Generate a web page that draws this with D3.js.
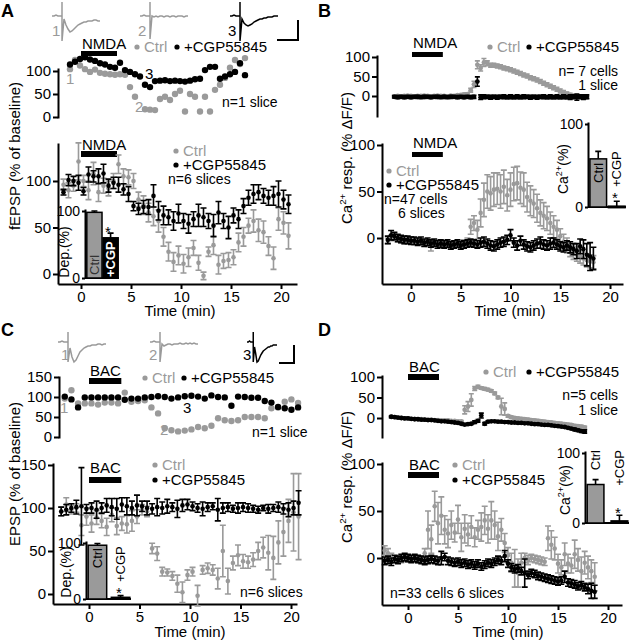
<!DOCTYPE html>
<html><head><meta charset="utf-8">
<script src="https://cdn.jsdelivr.net/npm/d3@7"></script>
<style>body{margin:0;background:#fff}</style>
</head><body><svg id="c" width="630" height="640"></svg>
<script>
// ---------------- DATA ----------------
const timeTicks = [0,5,10,15,20];
const yTicks100 = [0,50,100];
const yTicks150 = [0,50,100,150];
const insetTicks = [0,100];
const insetCats = ["Ctrl","+CGP"];

// drug application periods (min)
const nmdaA = [0,3.6], nmdaB = [0.1,3.2], bacC = [0,3.2], bacD = [0,3.1];

// sample traces (arbitrary units)
const traceT = [0,1,2,3,4,5,5,5,6,7,8,9,10,11,12,13,14,15,16,17,18,19,20,21,22,23,24];
const traceA1 = [0,0,1,0,0,0,14,-25,-3,-9,-13,-16,-15,-13,-11,-9,-8,-7,-6,-6,-5,-5,-5,-4,-4,-5,-5];
const traceA2 = [0,0,1,0,0,0,14,-23,0,-1,0,-1,0,0,-1,0,0,-1,0,0,-1,0,0,0,-1,0,0];
const traceA3 = [0,0,1,0,0,0,14,-25,-3,-7,-9,-10,-9,-8,-6,-5,-4,-3,-3,-2,-2,-1,-1,-1,0,0,0];
const traceC1 = [0,0,1,0,0,0,10,-20,-6,-15,-20,-18,-14,-10,-8,-6,-5,-4,-4,-3,-3,-3,-2,-2,-3,-2,-2];
const traceC2 = [0,0,1,0,0,0,10,-20,-2,-4,-3,-2,-2,-3,-2,-2,-2,-1,-2,-2,-1,-2,-1,-2,-1,-2,-2];
const traceC3 = [0,0,1,0,0,0,10,-20,-5,-12,-20,-19,-16,-13,-11,-9,-8,-7,-6,-5,-5,-4,-4,-3,-3,-3,-3];

// Panel A top (n=1 slice)
const aTopTime = [-1.1,-0.6,-0.1,0.4,0.9,1.4,1.9,2.4,2.9,3.4,3.9,4.4,4.9,5.4,5.9,6.4,6.9,7.4,7.9,8.4,8.9,9.4,9.9,10.4,10.9,11.4,11.9,12.4,12.9,13.4,13.9,14.4,14.9,15.4,15.9,16.4];
const aTopCtrl = [104,124,112,104,98,103,96,94,93,92,93,92,65,44,null,17,16,15,39,44,37,50,57,12,50,44,12,44,12,59,70,85,107,124,115,128];
const aTopCgp  = [114,120,126,130,125,122,117,114,109,107,118,102,98,93,88,70,65,78,79,80,78,79,78,77,79,82,83,102,109,109,83,88,93,98,117,91];

// Panel A main (n=6 slices)
const aTime = [-1.75,-1.25,-0.75,-0.25,0.25,0.75,1.25,1.75,2.25,2.75,3.25,3.75,4.25,4.75,5.25,5.75,6.25,6.75,7.25,7.75,8.25,8.75,9.25,9.75,10.25,10.75,11.25,11.75,12.25,12.75,13.25,13.75,14.25,14.75,15.25,15.75,16.25,16.75,17.25,17.75,18.25,18.75,19.25,19.75,20.25,20.75];
const aCtrl    = [96,90,95,121,100,90,108,88,95,92,100,118,105,104,100,80,74,66,62,57,40,24,13,20,11,18,28,12,-2,24,31,10,14,15,18,34,40,52,57,47,45,30,17,59,55,41];
const aCtrlErr = [6,8,6,20,6,10,12,10,8,8,8,10,8,8,8,8,10,10,10,12,10,10,10,10,10,10,8,8,4,5,10,10,8,8,8,10,10,8,12,12,12,10,12,12,12,14];
const aCgp     = [88,101,100,98,89,107,105,105,108,95,98,96,91,86,73,70,72,72,84,68,63,61,57,65,57,54,59,63,61,57,52,66,57,50,63,59,73,82,86,88,84,82,84,86,80,75];
const aCgpErr  = [3,6,5,8,4,8,6,8,10,7,6,8,6,8,5,6,7,8,12,10,10,8,10,10,8,10,8,12,10,8,12,12,8,12,8,10,8,8,10,8,8,8,10,14,10,10];
const aDep = [98,60], aDepErr = [2,7];

// Panel B top (n=7 cells, 1 slice)
const bTopTime = [-1.67,-1.33,-1,-0.67,-0.33,0,0.33,0.67,1,1.33,1.67,2,2.33,2.67,3,3.33,3.67,4,4.33,4.67,5,5.33,5.67,6,6.33,6.67,7,7.33,7.67,8,8.33,8.67,9,9.33,9.67,10,10.33,10.67,11,11.33,11.67,12,12.33,12.67,13,13.33,13.67,14,14.33,14.67,15,15.33,15.67,16,16.33,16.67,17,17.33,17.67];
const bTopCtrl    = [-1,0,-1,0,1,0,-1,0,0,1,0,-1,0,1,0,0,-1,1,0,2,3,4,5,15,30,80,72,86,84,79,79,77,75,72,70,67,64,61,58,54,51,47,44,41,37,33,29,25,21,17,13,10,6,3,1,0,-1,-2,-3];
const bTopCtrlErr = [2,2,2,2,2,2,2,2,2,2,2,2,2,2,2,2,2,2,2,2,2,3,3,5,8,10,8,10,6,5,5,5,5,5,5,5,5,5,5,5,5,5,5,5,5,5,5,5,5,5,5,4,4,4,3,3,3,3,3];
const bTopCgp     = [-2,-3,-2,-3,-2,-3,-2,-2,-3,-2,-2,-3,-2,-2,-3,-2,-3,-2,-2,-3,-2,-3,-2,-3,-2,37,-3,-2,-2,-3,-2,-3,-2,-2,-3,-2,-3,-2,-3,-2,-2,-3,-2,-3,-2,-2,-3,-2,-3,-2,-3,-2,-3,-3,-2,-3,-2,-3,-2];
const bTopCgpErr  = [3,4,3,4,3,4,3,4,3,4,3,4,3,4,3,4,3,4,3,4,3,4,3,4,4,12,6,5,4,5,4,5,4,5,4,5,4,5,4,5,4,5,4,5,4,5,4,5,4,5,4,5,4,6,5,8,5,6,5];

// Panel B main (n=47 cells, 6 slices)
const bTime = [-2.33,-2,-1.67,-1.33,-1,-0.67,-0.33,0,0.33,0.67,1,1.33,1.67,2,2.33,2.67,3,3.33,3.67,4,4.33,4.67,5,5.33,5.67,6,6.33,6.67,7,7.33,7.67,8,8.33,8.67,9,9.33,9.67,10,10.33,10.67,11,11.33,11.67,12,12.33,12.67,13,13.33,13.67,14,14.33,14.67,15,15.33,15.67,16,16.33,16.67,17,17.33,17.67,18,18.33];
const bCtrl    = [-3,0,2,-1,-2,-3,-2,-2,-4,-3,-4,-5,-6,-9,-6,-5,-6,-7,-6,-7,-8,-7,-6,-5,-4,12,16,9,27,41,50,48,52,53,50,55,46,52,58,59,54,52,44,40,37,32,27,24,21,16,12,9,2,-4,-8,-13,-16,-18,-20,-22,-24,-25,-26];
const bCtrlErr = [3,3,3,3,3,3,3,3,3,3,3,3,3,5,3,3,3,3,3,3,3,3,3,3,4,8,8,10,15,18,18,18,18,17,18,18,17,18,18,18,17,18,16,16,15,15,14,14,13,12,12,10,8,8,8,7,7,7,7,7,7,7,7];
const bCgp     = [-2,3,2,0,-1,-2,-2,-3,-3,-4,-3,-5,-4,-6,-5,-7,-6,-7,-6,-8,-7,-6,-8,-7,-6,-5,-6,-7,-5,-4,-6,-8,-9,-7,-5,-4,-2,3,-5,-8,-3,-7,-9,-10,-8,-6,-5,-7,-8,-6,-5,-7,-9,-10,-8,-10,-12,-14,-9,-12,-18,-20,-22];
const bCgpErr  = [4,5,4,4,4,4,4,4,4,4,4,4,4,4,4,4,4,4,4,4,4,4,4,4,4,4,4,4,5,5,5,5,5,5,5,5,5,6,5,5,5,5,5,5,5,5,6,5,5,6,5,5,5,5,5,6,6,8,8,10,12,15,12];
const bCa = [58,1], bCaErr = [9,6];

// Panel C top (n=1 slice)
const cTopTime = [-2.4,-1.74,-1.08,-0.42,0.24,0.9,1.56,2.22,2.88,3.54,4.2,4.86,5.52,6.18,6.84,7.5,8.16,8.82,9.48,10.14,10.8,11.46,12.12,12.78,13.44,14.1,14.76,15.42,16.08,16.74,17.4,18.06,18.72,19.38,20.04,20.7];
const cTopCtrl = [96,117,84,84,84,81,86,86,84,111,88,90,92,74,59,22,17,14,16,19,25,22,28,47,42,40,42,50,50,50,47,72,74,88,94,85];
const cTopCgp  = [101,94,74,99,99,99,99,99,99,93,96,96,99,100,102,100,96,99,102,103,101,96,104,100,99,78,101,100,98,98,90,86,75,72,68,74];

// Panel C main (n=6 slices)
const cTime = [-2.75,-2.25,-1.75,-1.25,-0.75,-0.25,0.25,0.75,1.25,1.75,2.25,2.75,3.25,3.75,4.25,4.75,5.25,5.75,6.25,6.75,7.25,7.75,8.25,8.75,9.25,9.75,10.25,10.75,11.25,11.75,12.25,12.75,13.25,13.75,14.25,14.75,15.25,15.75,16.25,16.75,17.25,17.75,18.25,18.75,19.25,19.75,20.25,20.75];
const cCtrl    = [96,104,98,100,80,90,82,89,85,78,92,79,82,81,85,90,98,96,53,47,26,25,21,12,2,22,26,-2,28,30,28,18,50,15,36,45,38,37,40,50,54,48,42,60,72,85,95,90];
const cCtrlErr = [5,8,5,5,12,10,10,8,8,10,8,10,8,10,12,8,6,6,6,8,5,4,5,10,12,6,5,12,5,6,6,12,30,15,8,12,8,7,8,10,12,20,25,25,28,25,45,50];
const cCgp     = [96,98,100,101,102,99,100,98,100,103,101,99,104,102,100,103,102,100,99,101,100,102,101,99,103,104,102,100,99,101,102,98,100,101,99,100,101,100,99,98,100,99,100,101,99,98,100,106];
const cCgpErr  = [5,6,5,8,45,5,6,10,6,8,10,12,8,10,8,12,6,8,6,10,7,8,5,10,7,6,5,5,8,5,4,13,6,5,4,6,5,5,4,4,3,5,4,6,6,8,8,14];
const cDep = [96,3], cDepErr = [3,3];

// Panel D top (n=5 cells, 1 slice)
const dTopTime = [-1.67,-1.33,-1,-0.67,-0.33,0,0.33,0.67,1,1.33,1.67,2,2.33,2.67,3,3.33,3.67,4,4.33,4.67,5,5.33,5.67,6,6.33,6.67,7,7.33,7.67,8,8.33,8.67,9,9.33,9.67,10,10.33,10.67,11,11.33,11.67,12,12.33,12.67,13,13.33,13.67,14,14.33,14.67,15,15.33,15.67,16,16.33,16.67,17,17.33,17.67];
const dTopCtrl    = [3,2,1,0,-1,-1,-2,-2,-3,-3,-4,-4,-4,-5,-5,-6,-6,-6,-7,-7,-8,-8,20,28,44,72,76,73,71,69,66,60,50,28,22,5,2,0,-1,-2,-3,-4,-5,-6,-7,-8,-9,-10,-11,-12,-13,-14,-15,-16,-17,-19,-20,-21,-23];
const dTopCtrlErr = [2,2,2,2,2,2,2,2,2,2,2,2,2,2,2,2,2,2,2,2,2,2,10,12,15,5,4,3,3,3,3,3,3,20,15,3,3,3,3,3,3,3,3,3,3,3,3,3,3,3,3,3,3,3,3,3,3,3,3];
const dTopCgp     = [3,2,1,0,-1,-1,-2,-3,-3,-4,-4,-5,-5,-6,-7,-8,-8,-9,-10,-11,-12,-14,-16,-15,-14,-10,-7,6,-14,-9,-8,-8,-9,-9,-10,-10,-11,-11,-12,-12,-13,-13,-14,-15,-15,-16,-17,-17,-18,-19,-20,-21,-22,-24,-26,-28,-30,-32,-33];
const dTopCgpErr  = [2,2,2,2,2,2,2,2,2,2,2,2,2,2,2,2,2,2,2,2,2,2,2,2,2,3,3,6,3,2,2,2,2,2,2,2,2,2,2,2,2,2,2,2,2,2,2,2,2,2,2,2,2,2,2,3,3,3,4];

// Panel D main (n=33 cells, 6 slices)
const dTime = [-2.33,-2,-1.67,-1.33,-1,-0.67,-0.33,0,0.33,0.67,1,1.33,1.67,2,2.33,2.67,3,3.33,3.67,4,4.33,4.67,5,5.33,5.67,6,6.33,6.67,7,7.33,7.67,8,8.33,8.67,9,9.33,9.67,10,10.33,10.67,11,11.33,11.67,12,12.33,12.67,13,13.33,13.67,14,14.33,14.67,15,15.33,15.67,16,16.33,16.67,17,17.33,17.67,18,18.33,18.67];
const dCtrl    = [8,5,2,-2,-1,-2,0,-1,-1,0,-2,-1,5,30,20,55,37,45,30,26,35,27,41,22,31,25,33,22,30,33,40,31,40,35,23,30,16,3,-5,-11,-16,-5,0,-2,0,-1,-2,-3,-4,21,14,10,-6,-10,4,-6,-8,4,-2,-14,-5,-10,-14,-20];
const dCtrlErr = [5,5,3,3,3,3,3,3,3,3,3,3,5,20,15,16,22,20,15,15,15,10,15,15,15,12,12,10,10,15,15,15,20,15,15,12,10,8,10,20,15,10,5,5,4,4,4,4,4,13,15,12,10,8,12,10,8,15,12,15,12,12,12,15];
const dCgp     = [-3,-2,-4,-1,-2,0,1,0,-1,0,-1,-2,-3,-2,-1,-2,-3,0,1,-3,-4,-5,-4,-6,-5,-7,-6,-8,-6,-9,-7,-5,-6,-4,-2,-3,2,-6,-10,-12,-11,-14,-16,-18,-16,-17,-19,-20,-21,-22,-23,-24,-25,-24,-20,-26,-27,-28,-30,-29,-31,-33,-35,-36];
const dCgpErr  = [4,4,4,4,4,4,4,4,4,4,4,4,4,4,4,4,4,7,4,4,4,4,4,4,4,4,4,4,4,4,4,4,4,4,4,4,6,4,4,4,4,4,15,4,4,4,4,4,4,4,4,4,4,4,6,4,4,4,4,4,4,5,8,7];
const dCa = [55,3], dCaErr = [7,8];

// ---------------- DRAWING ----------------
const FONT = "'Liberation Sans', Arial, Helvetica, sans-serif";
const GRAY = "#9a9a9a";
const LFS = 14; // legend / annotation font size
const svg = d3.select("#c");
svg.append("rect").attr("width",630).attr("height",640).attr("fill","#fff");

function lin(v0,p0,v1,p1,pa,pb){
  const s = d3.scaleLinear().domain([v0,v1]).range([p0,p1]);
  return d3.scaleLinear().domain([s.invert(pa), s.invert(pb)]).range([pa,pb]);
}
function styleAxis(g, fs){
  g.select(".domain").attr("stroke","#000").attr("stroke-width",2);
  g.selectAll(".tick line").attr("stroke","#000").attr("stroke-width",2);
  g.selectAll(".tick text").attr("fill","#000").attr("font-family",FONT).attr("font-size",fs);
}
function yAxis(y, x0, ticks, size=5, fs=15){
  const g = svg.append("g").attr("transform",`translate(${x0},0)`)
    .call(d3.axisLeft(y).tickValues(ticks).tickSize(size).tickSizeOuter(0).tickPadding(2));
  styleAxis(g, fs); return g;
}
function xAxis(x, y0, ticks){
  const g = svg.append("g").attr("transform",`translate(0,${y0})`)
    .call(d3.axisBottom(x).tickValues(ticks).tickSize(5).tickSizeOuter(0).tickPadding(2));
  styleAxis(g, 15); return g;
}
function scatter(x, y, t, v, e, color, r, cap){
  const data = t.map((tt,i)=>({t:tt, v:v[i], e: e ? e[i] : 0})).filter(d=>d.v!=null);
  const g = svg.append("g");
  if (e) {
    g.selectAll("path").data(data).join("path")
      .attr("d", d=>{ const xx=x(d.t), y1=y(d.v-d.e), y2=y(d.v+d.e);
        return `M${xx},${y1}V${y2}M${xx-cap},${y1}H${xx+cap}M${xx-cap},${y2}H${xx+cap}`; })
      .attr("stroke", color).attr("stroke-width",1.6).attr("fill","none");
  }
  g.selectAll("circle").data(data).join("circle")
    .attr("cx", d=>x(d.t)).attr("cy", d=>y(d.v)).attr("r", r).attr("fill", color);
}
function txt(x, y, s, o={}){
  const t = svg.append("text").attr("x",x).attr("y",y).text(s)
    .attr("font-family",FONT).attr("font-size",o.fs||LFS).attr("fill",o.fill||"#000")
    .attr("text-anchor",o.anchor||"start");
  if (o.bold) t.attr("font-weight","bold");
  return t;
}
function vtxt(cx, cy, s, o={}){
  const t = svg.append("text").attr("transform",`translate(${cx},${cy}) rotate(-90)`)
    .attr("dy","0.35em").text(s)
    .attr("font-family",FONT).attr("font-size",o.fs||15).attr("fill",o.fill||"#000")
    .attr("text-anchor",o.anchor||"middle");
  if (o.bold) t.attr("font-weight","bold");
  return t;
}
function caLabel(cx, cy, main, fs){
  const t = svg.append("text").attr("transform",`translate(${cx},${cy}) rotate(-90)`)
    .attr("dy","0.35em").attr("font-family",FONT).attr("font-size",fs).attr("text-anchor","middle");
  t.append("tspan").text("Ca");
  t.append("tspan").text("2+").attr("font-size",fs*0.65).attr("dy",-fs*0.4);
  t.append("tspan").text(main).attr("dy",fs*0.4);
}
function drugBar(x, period, yTop, h, label, labelY){
  svg.append("rect").attr("x",x(period[0])).attr("y",yTop)
    .attr("width",x(period[1])-x(period[0])).attr("height",h).attr("fill","#000");
  txt(x(period[0])+1, labelY, label, {fs:15});
}
function legend(x0, y0, dy, sameRow, x1){
  const items = [{c:GRAY, s:"Ctrl"},{c:"#000", s:"+CGP55845"}];
  items.forEach((it,i)=>{
    const xx = sameRow ? (i===0 ? x0 : x1) : x0;
    const yy = sameRow ? y0 : y0 + i*dy;
    svg.append("circle").attr("cx",xx).attr("cy",yy-5).attr("r",2.6).attr("fill",it.c);
    txt(xx+7, yy, it.s, {fs:15, fill:it.c});
  });
}
function trace(x0, w, base, vals, color){
  const x = d3.scaleLinear().domain([0,24]).range([x0, x0+w]);
  const y = d3.scaleLinear().domain([0,1]).range([base, base-1]);
  const line = d3.line().x((d,i)=>x(traceT[i])).y(d=>y(d));
  svg.append("path").attr("d", line(vals)).attr("fill","none").attr("stroke",color).attr("stroke-width",1.5);
}
function scaleBar(xr, yTop, yBot, xl){
  svg.append("path").attr("d",`M${xr},${yTop}V${yBot}H${xl}`).attr("fill","none").attr("stroke","#000").attr("stroke-width",2);
}
function inset(o){
  const y = lin(0,o.y0,100,o.y100,o.y0,o.y100-2);
  const x = d3.scaleBand().domain(insetCats).range(o.xr).paddingInner(o.pi).paddingOuter(0.05);
  yAxis(y, o.ax, insetTicks, 3, 14);
  svg.append("line").attr("x1",o.ax).attr("x2",o.xr[1]).attr("y1",o.y0).attr("y2",o.y0).attr("stroke","#000").attr("stroke-width",2);
  const data = insetCats.map((c,i)=>({c, v:o.vals[i], e:o.errs[i]}));
  svg.append("g").selectAll("path").data(data).join("path")
    .attr("d", d=>{ const cx = x(d.c)+x.bandwidth()/2, yt=y(d.v+d.e), yb=y(d.v);
      return `M${cx},${yb}V${yt}M${cx-3},${yt}H${cx+3}`; })
    .attr("stroke","#000").attr("stroke-width",1.6);
  svg.append("g").selectAll("rect").data(data).join("rect")
    .attr("x", d=>x(d.c)).attr("width", x.bandwidth())
    .attr("y", d=>y(Math.max(d.v,0))).attr("height", d=>Math.max(1.5, y(0)-y(d.v)))
    .attr("fill", (d,i)=> i===0 ? GRAY : "#000").attr("stroke","#000").attr("stroke-width",1.5);
  return {x, y};
}

// ======== Panel A ========
txt(1, 17, "A", {fs:18, bold:true});
trace(52, 48, 16, traceA1, GRAY); trace(140, 48, 16, traceA2, GRAY); trace(230, 48, 16, traceA3, "#000");
txt(52, 36, "1", {fs:15, fill:GRAY}); txt(138, 36, "2", {fs:15, fill:GRAY}); txt(228, 36, "3", {fs:15});
scaleBar(298, 20, 40, 277);
const xA = lin(0,81,20,281,58,297);
const yAt = lin(0,117,100,71,118,68);
yAxis(yAt, 58, yTicks100);
drugBar(xA, nmdaA, 51, 5, "NMDA", 49);
legend(137, 52, 0, true, 177);
scatter(xA, yAt, aTopTime, aTopCtrl, null, GRAY, 3.2, 0);
scatter(xA, yAt, aTopTime, aTopCgp, null, "#000", 3.2, 0);
txt(66, 84, "1", {fs:15, fill:GRAY}); txt(135, 112, "2", {fs:15, fill:GRAY}); txt(145, 79, "3", {fs:15});
txt(222, 107, "n=1 slice");

const yAm = lin(0,274,100,181,284,143);
yAxis(yAm, 58, yTicks100);
xAxis(xA, 284, timeTicks);
drugBar(xA, nmdaA, 151, 6, "NMDA", 150);
legend(176, 156, 14, false);
txt(168, 184, "n=6 slices");
scatter(xA, yAm, aTime, aCtrl, aCtrlErr, GRAY, 2.3, 3);
scatter(xA, yAm, aTime, aCgp, aCgpErr, "#000", 2.3, 3);
vtxt(15, 156, "fEPSP (% of baseline)", {fs:15});
txt(180, 316, "Time (min)", {fs:15, anchor:"middle"});
const iA = inset({y0:278, y100:211, ax:85, xr:[86,119], pi:0.06, vals:aDep, errs:aDepErr});
vtxt(64, 252, "Dep.(%)", {fs:14});
vtxt(iA.x("Ctrl")+iA.x.bandwidth()/2, 275, "Ctrl", {fs:13, anchor:"start", fill:"#333"});
vtxt(iA.x("+CGP")+iA.x.bandwidth()/2, 277, "+CGP", {fs:13, anchor:"start", fill:"#fff", bold:true});
txt(108, 237, "*", {fs:15, anchor:"middle"});

// ======== Panel B ========
txt(318, 17, "B", {fs:18, bold:true});
const xB = lin(0,411,20,610,382,623);
const yBt = lin(0,96,100,57,117,55);
yAxis(yBt, 377, yTicks100);
drugBar(xB, nmdaB, 52, 5, "NMDA", 48);
legend(490, 52, 0, true, 529);
scatter(xB, yBt, bTopTime, bTopCtrl, bTopCtrlErr, GRAY, 2.4, 2.5);
scatter(xB, yBt, bTopTime, bTopCgp, bTopCgpErr, "#000", 2.4, 2.5);
txt(618, 76, "n= 7 cells", {anchor:"end"});
txt(618, 90, "1 slice", {anchor:"end"});

const yBm = lin(0,238,100,145,284,143);
yAxis(yBm, 382, yTicks100);
xAxis(xB, 284, timeTicks);
drugBar(xB, nmdaB, 152, 5, "NMDA", 148);
legend(389, 176, 14, false);
txt(384, 204, "n=47 cells");
txt(398, 218, "6 slices");
scatter(xB, yBm, bTime, bCtrl, bCtrlErr, GRAY, 2.3, 3);
scatter(xB, yBm, bTime, bCgp, bCgpErr, "#000", 2.3, 3);
caLabel(347, 158, " resp. (% ΔF/F)", 15);
txt(510, 316, "Time (min)", {fs:15, anchor:"middle"});
const iB = inset({y0:207, y100:124, ax:588, xr:[589,626], pi:0.1, vals:bCa, errs:bCaErr});
caLabel(563, 169, "(%)", 14);
vtxt(iB.x("Ctrl")+iB.x.bandwidth()/2, 183, "Ctrl", {fs:13, anchor:"start"});
vtxt(iB.x("+CGP")+iB.x.bandwidth()/2, 187, "+CGP", {fs:13, anchor:"start"});
txt(615, 203, "*", {fs:15, anchor:"middle"});

// ======== Panel C ========
txt(1, 336, "C", {fs:18, bold:true});
trace(58, 48, 342, traceC1, GRAY); trace(150, 48, 342, traceC2, GRAY); trace(247, 30, 342, traceC3, "#000");
txt(61, 360, "1", {fs:15, fill:GRAY}); txt(149, 360, "2", {fs:15, fill:GRAY}); txt(243, 360, "3", {fs:15});
scaleBar(294, 345, 363, 279);
const xC = lin(0,89,20,291,53,297);
const yCt = lin(0,437,100,397,438,376);
yAxis(yCt, 59, yTicks150);
drugBar(xC, bacC, 378, 6, "BAC", 376);
legend(145, 383, 0, true, 184);
scatter(xC, yCt, cTopTime, cTopCtrl, null, GRAY, 3.2, 0);
scatter(xC, yCt, cTopTime, cTopCgp, null, "#000", 3.2, 0);
txt(60, 413, "1", {fs:15, fill:GRAY}); txt(160, 435, "2", {fs:15, fill:GRAY}); txt(183, 413, "3", {fs:15});
txt(252, 437, "n=1 slice");

const yCm = lin(0,594,150,465,604,463);
yAxis(yCm, 53, yTicks150);
xAxis(xC, 604, timeTicks);
drugBar(xC, bacC, 477, 6, "BAC", 473);
legend(155, 470, 15, false);
txt(240, 597, "n=6 slices");
scatter(xC, yCm, cTime, cCtrl, cCtrlErr, GRAY, 2.3, 3);
scatter(xC, yCm, cTime, cCgp, cCgpErr, "#000", 2.3, 3);
vtxt(15, 474, "EPSP (% of baseline)", {fs:15});
txt(190, 637, "Time (min)", {fs:15, anchor:"middle"});
const iC = inset({y0:599, y100:543, ax:86, xr:[87,131], pi:0.2, vals:cDep, errs:cDepErr});
vtxt(66, 572, "Dep.(%)", {fs:14});
vtxt(iC.x("Ctrl")+iC.x.bandwidth()/2, 548, "Ctrl", {fs:13, anchor:"end"});
vtxt(iC.x("+CGP")+iC.x.bandwidth()/2, 582, "+CGP", {fs:13, anchor:"start"});
txt(119, 598, "*", {fs:15, anchor:"middle"});

// ======== Panel D ========
txt(318, 336, "D", {fs:18, bold:true});
const xD = lin(0,408,20,608,382,622);
const yDt = lin(0,418,100,377,438,375);
yAxis(yDt, 382, yTicks100);
drugBar(xD, bacD, 374, 6, "BAC", 372);
legend(486, 377, 0, true, 529);
scatter(xD, yDt, dTopTime, dTopCtrl, dTopCtrlErr, GRAY, 2.4, 2.5);
scatter(xD, yDt, dTopTime, dTopCgp, dTopCgpErr, "#000", 2.4, 2.5);
txt(618, 400, "n=5 cells", {anchor:"end"});
txt(618, 415, "1 slice", {anchor:"end"});

const yDm = lin(0,558,100,464,605,462);
yAxis(yDm, 382, yTicks100);
xAxis(xD, 605, timeTicks);
drugBar(xD, bacD, 472, 6, "BAC", 470);
legend(455, 470, 15, false);
txt(390, 598, "n=33 cells 6 slices");
scatter(xD, yDm, dTime, dCtrl, dCtrlErr, GRAY, 2.3, 3);
scatter(xD, yDm, dTime, dCgp, dCgpErr, "#000", 2.3, 3);
caLabel(347, 477, " resp. (% ΔF/F)", 15);
txt(508, 637, "Time (min)", {fs:15, anchor:"middle"});
const iD = inset({y0:523, y100:453, ax:585, xr:[586,629], pi:0.3, vals:dCa, errs:dCaErr});
caLabel(565, 490, "(%)", 14);
vtxt(iD.x("Ctrl")+iD.x.bandwidth()/2, 450, "Ctrl", {fs:13, anchor:"end"});
vtxt(iD.x("+CGP")+iD.x.bandwidth()/2, 450, "+CGP", {fs:13, anchor:"end"});
txt(618, 518, "*", {fs:15, anchor:"middle"});
</script></body></html>
